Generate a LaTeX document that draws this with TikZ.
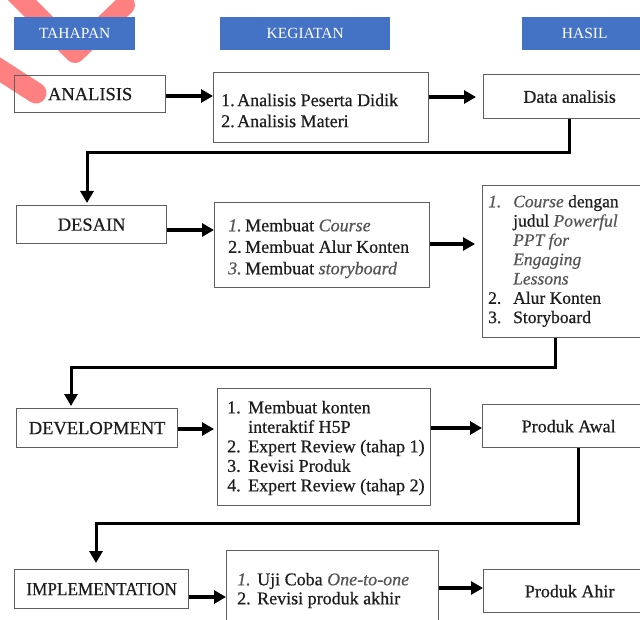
\documentclass[tikz,border=0pt]{standalone}
\usepackage{fontspec}
\setmainfont{Liberation Serif}[FakeBold=0.6]
\newfontfamily\hdrfont{Liberation Serif}
\usetikzlibrary{arrows.meta}
\definecolor{hdr}{RGB}{68,114,196}
\definecolor{pinkx}{RGB}{255,128,128}
\definecolor{bord}{RGB}{95,95,95}
\definecolor{ink}{RGB}{30,30,30}
\definecolor{itink}{RGB}{85,85,85}
\newcommand{\itm}[2]{\makebox[#1][l]{#2}}
\newcommand{\itx}[1]{\textcolor{itink}{\textit{#1}}}
\begin{document}
\begin{tikzpicture}[x=1pt,y=-1pt,
  hdrbox/.style={fill=hdr, text=white, inner sep=0pt, anchor=north west,
    font=\hdrfont\fontsize{15.5}{17}\selectfont},
  frame/.style={draw=bord, line width=1.3pt, inner sep=0pt, anchor=north west, text=ink},
  stagetxt/.style={font=\fontsize{18.5}{21}\selectfont},
  restxt/.style={font=\fontsize{18}{21}\selectfont},
  listtxt/.style={align=left, inner sep=0pt, anchor=west, text=ink},
  arr/.style={line width=3.4pt, -{Triangle[length=12pt,width=13pt]}},
  conn/.style={line width=3pt, -{Triangle[length=12pt,width=13pt]}}]
\useasboundingbox (0,0) rectangle (640,620);
\clip (0,0) rectangle (640,620);
\fill[white] (0,0) rectangle (640,620);
% pink strokes
\draw[pinkx, line width=20pt, line cap=round, line join=round] (-10,-32) -- (75,53) -- (125,5);
\draw[pinkx, line width=21pt, line cap=round] (-20,57) -- (36,93);
% headers
\node[hdrbox, minimum width=121pt, minimum height=33pt] (hT) at (14,17) {TAHAPAN};
\node[hdrbox, minimum width=170pt, minimum height=33pt] (hK) at (220,17) {KEGIATAN};
\node[hdrbox, minimum width=125pt, minimum height=33pt] (hH) at (522,17) {HASIL};
% stage boxes
\node[frame, stagetxt, minimum width=151pt, minimum height=37pt] (ana) at (14,75) {ANALISIS};
\node[frame, stagetxt, minimum width=150pt, minimum height=38pt] (des) at (16,205) {DESAIN};
\node[frame, stagetxt, minimum width=161pt, minimum height=39pt] (dev) at (16,408) {DEVELOPMENT};
\node[frame, stagetxt, minimum width=174pt, minimum height=39pt] (imp) at (14,569) {\raisebox{-5pt}{\scalebox{0.93}[1]{IMPLEMENTATION}}};
% activity boxes
\node[frame, minimum width=215pt, minimum height=70pt] (k1) at (213,72) {};
\node[frame, minimum width=215pt, minimum height=85pt] (k2) at (214,202) {};
\node[frame, minimum width=213pt, minimum height=117pt] (k3) at (217,388) {};
\node[frame, minimum width=212pt, minimum height=90pt] (k4) at (226,550) {};
% result boxes
\node[frame, restxt, minimum width=172pt, minimum height=44pt] (h1) at (483,74) {Data analisis};
\node[frame, minimum width=175pt, minimum height=152pt] (h2) at (482,185) {};
\node[frame, restxt, minimum width=172pt, minimum height=43pt] (h3) at (482,404) {Produk Awal};
\node[frame, restxt, minimum width=172pt, minimum height=43pt] (h4) at (483,569) {Produk Ahir};
% texts
\node[listtxt, font=\fontsize{18}{21}\selectfont] (t1) at (221,110.5)
  {\itm{16pt}{1.}Analisis Peserta Didik\\ \itm{16pt}{2.}Analisis Materi};
\node[listtxt, font=\fontsize{18}{21.5}\selectfont] (t2) at (228,248.5)
  {\itm{17pt}{\itx{1.}}Membuat \itx{Course}\\ \itm{17pt}{2.}Membuat Alur Konten\\ \itm{17pt}{\itx{3.}}Membuat \itx{storyboard}};
\node[listtxt, font=\fontsize{18}{19.5}\selectfont] (t3) at (227,448)
  {\itm{21pt}{1.}Membuat konten\\ \itm{21pt}{}interaktif H5P\\ \itm{21pt}{2.}Expert Review (tahap 1)\\ \itm{21pt}{3.}Revisi Produk\\ \itm{21pt}{4.}Expert Review (tahap 2)};
\node[listtxt, font=\fontsize{17.5}{19.3}\selectfont] (u2) at (488,261)
  {\itm{25pt}{\itx{1.}}\itx{Course} dengan\\ \itm{25pt}{}judul \itx{Powerful}\\ \itm{25pt}{}\itx{PPT for}\\ \itm{25pt}{}\itx{Engaging}\\ \itm{25pt}{}\itx{Lessons}\\ \itm{25pt}{2.}Alur Konten\\ \itm{25pt}{3.}Storyboard};
\node[listtxt, font=\fontsize{18}{19}\selectfont] (t4) at (237,590.5)
  {\itm{20pt}{\itx{1.}}Uji Coba \itx{One-to-one}\\ \itm{20pt}{2.}Revisi produk akhir};
% horizontal arrows
\draw[arr] (ana.east |- 0,96) -- (k1.west |- 0,96);
\draw[arr] (k1.east |- 0,97) -- ([xshift=-7pt]h1.west |- 0,97);
\draw[arr] (des.east |- 0,230) -- (k2.west |- 0,230);
\draw[arr] (k2.east |- 0,244) -- ([xshift=-7pt]h2.west |- 0,244);
\draw[arr] (dev.east |- 0,429) -- ([xshift=-3pt]k3.west |- 0,429);
\draw[arr] (k3.east |- 0,428) -- (h3.west |- 0,428);
\draw[arr] (imp.east |- 0,597) -- (k4.west |- 0,597);
\draw[arr] (k4.east |- 0,588) -- (h4.west |- 0,588);
% connectors between rows
\coordinate (b1) at (87,153);
\coordinate (b2) at (71,367);
\coordinate (b3) at (96,523);
\draw[conn, shorten >=2pt] (h1.south -| 569,0) |- (b1) -- (des.north -| b1);
\draw[conn, shorten >=2pt] (h2.south -| 555,0) |- (b2) -- (dev.north -| b2);
\draw[conn, shorten >=6pt] (h3.south -| 578,0) |- (b3) -- (imp.north -| b3);
\end{tikzpicture}
\end{document}
